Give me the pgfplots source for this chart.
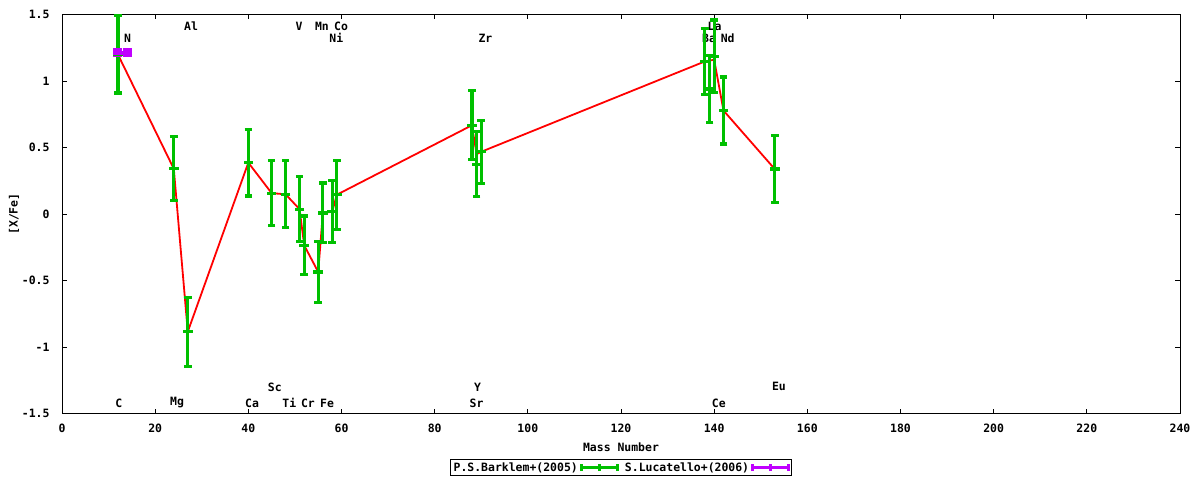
\documentclass[border=0pt]{standalone}
\usepackage{pgfplots}
\pgfplotsset{compat=1.18}
\usepackage{fontspec}
\setmainfont{DejaVu Sans Mono}
\definecolor{gpgreen}{HTML}{00C000}
\definecolor{gpred}{HTML}{FF0000}
\definecolor{gpmag}{HTML}{C000FF}

% mass number, [X/Fe], error
\pgfplotstableread{
A v e
12 1.200 0.290
24 0.340 0.240
27 -0.885 0.260
40 0.386 0.250
45 0.157 0.245
48 0.148 0.252
51 0.036 0.245
52 -0.236 0.221
55 -0.436 0.230
56 0.008 0.225
58 0.017 0.232
59 0.145 0.260
88 0.667 0.260
89 0.375 0.245
90 0.468 0.238
138 1.147 0.247
139 0.940 0.250
140 1.185 0.274
142 0.778 0.252
153 0.338 0.250
}\barklem

\pgfplotstableread{
A v e
12 1.212 0.020
14 1.212 0.020
}\lucatello

\pgfplotstableread{
A v
12 1.200
24 0.340
27 -0.885
40 0.386
45 0.157
48 0.148
51 0.036
52 -0.236
55 -0.436
56 0.008
58 0.017
59 0.145
88 0.667
89 0.450
90 0.468
138 1.147
140 1.160
142 0.778
153 0.338
}\meanline

\begin{document}
\begin{tikzpicture}[font=\fontsize{11.5}{13}\selectfont\bfseries]
\begin{axis}[name=ax, scale only axis, width=1118bp, height=399bp,
  xmin=0, xmax=240, ymin=-1.5, ymax=1.5,
  xtick={0,20,...,240},
  ytick={-1.5,-1,-0.5,0,0.5,1,1.5},
  yticklabels={-1.5,-1,-0.5,0,0.5,1,1.5},
  /pgf/number format/assume math mode=true,
  tick align=inside, major tick length=5bp,
  axis line style={line width=1bp},
  every tick/.style={black, line width=0.8bp},
  yticklabel style={xshift=-9bp},
  xticklabel style={yshift=-7bp},
  xlabel={Mass Number}, ylabel={[X/Fe]},
  xlabel style={at={(axis description cs:0.5,-0.084)}, anchor=center},
  ylabel style={at={(axis description cs:-0.043,0.5)}, anchor=center},
  legend columns=-1, legend plot pos=right,
  legend style={at={(axis description cs:0.5,-0.114)}, anchor=north,
    draw=black, line width=0.8bp, inner sep=1bp,
    /tikz/every even column/.append style={column sep=4bp}},
  ]
% element names
\node at (axis cs:27.7,1.414) {Al};
\node at (axis cs:50.9,1.414) {V};
\node at (axis cs:55.8,1.414) {Mn};
\node at (axis cs:59.9,1.414) {Co};
\node at (axis cs:140.1,1.414) {La};
\node at (axis cs:14.1,1.323) {N};
\node at (axis cs:58.9,1.323) {Ni};
\node at (axis cs:90.9,1.323) {Zr};
\node at (axis cs:138.9,1.323) {Ba};
\node at (axis cs:142.9,1.323) {Nd};
\node at (axis cs:45.7,-1.30) {Sc};
\node at (axis cs:89.2,-1.30) {Y};
\node at (axis cs:153.9,-1.30) {Eu};
\node at (axis cs:12.2,-1.421) {C};
\node at (axis cs:24.7,-1.421) {Mg};
\node at (axis cs:40.8,-1.421) {Ca};
\node at (axis cs:48.8,-1.421) {Ti};
\node at (axis cs:52.8,-1.421) {Cr};
\node at (axis cs:56.9,-1.421) {Fe};
\node at (axis cs:89.0,-1.421) {Sr};
\node at (axis cs:141.0,-1.421) {Ce};

\addplot[gpred, line width=1.8bp, no marks, forget plot] table[x=A, y=v] {\meanline};

\addplot[gpgreen, only marks, mark=-, mark size=4.8bp, mark options={line width=3.2bp},
  legend image code/.code={
    \draw[gpgreen, line width=3.2bp] (0bp,0bp) -- (36bp,0bp);
    \draw[gpgreen, line width=3.2bp] (0bp,-3.6bp) -- (0bp,3.6bp);
    \draw[gpgreen, line width=3.2bp] (18bp,-3.6bp) -- (18bp,3.6bp);
    \draw[gpgreen, line width=3.2bp] (36bp,-3.6bp) -- (36bp,3.6bp);},
  error bars/.cd, y dir=both, y explicit,
  error bar style={gpgreen, line width=3.2bp},
  error mark options={gpgreen, line width=3.2bp, mark size=3.8bp, rotate=90}]
  table[x=A, y=v, y error=e] {\barklem};
\addlegendentry{P.S.Barklem+(2005)}

\addplot[gpmag, only marks, mark=-, mark size=5.2bp, mark options={line width=3.6bp},
  legend image code/.code={
    \draw[gpmag, line width=3.2bp] (0bp,0bp) -- (36bp,0bp);
    \draw[gpmag, line width=3.2bp] (0bp,-3.6bp) -- (0bp,3.6bp);
    \draw[gpmag, line width=3.2bp] (18bp,-3.6bp) -- (18bp,3.6bp);
    \draw[gpmag, line width=3.2bp] (36bp,-3.6bp) -- (36bp,3.6bp);},
  error bars/.cd, y dir=both, y explicit,
  error bar style={gpmag, line width=3.6bp},
  error mark options={gpmag, line width=3.6bp, mark size=4.4bp, rotate=90}]
  table[x=A, y=v, y error=e] {\lucatello};
\addlegendentry{S.Lucatello+(2006)}
\end{axis}
\path (ax.south west) ++(-62bp,-66.5bp) rectangle ++(1200bp,480bp);
\end{tikzpicture}
\end{document}
